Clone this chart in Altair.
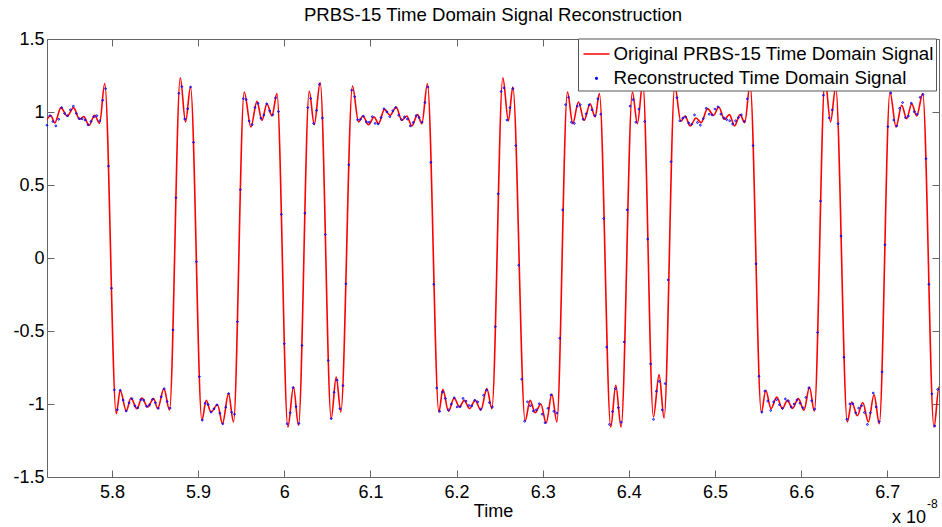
import altair as alt
import pandas as pd

ORIG = "Original PRBS-15 Time Domain Signal"
RECON = "Reconstructed Time Domain Signal"
FONT = "Liberation Sans"

x_ticks = [5.8, 5.9, 6.0, 6.1, 6.2, 6.3, 6.4, 6.5, 6.6, 6.7]
y_ticks = [-1.5, -1.0, -0.5, 0.0, 0.5, 1.0, 1.5]
x_domain = [5.7246, 6.76]
y_domain = [-1.5, 1.5]

# Original signal: turning points of the red curve (time in units of 1e-8 s)
line_t = [
    5.7214, 5.7290, 5.7336, 5.7408, 5.7481, 5.7554, 5.7624, 5.7673, 5.7734, 5.7798,
    5.7856, 5.7916, 5.8050, 5.8096, 5.8166, 5.8220, 5.8290, 5.8348, 5.8413, 5.8483,
    5.8531, 5.8603, 5.8668, 5.8793, 5.8854, 5.8912, 5.9044, 5.9094, 5.9149, 5.9225,
    5.9283, 5.9353, 5.9411, 5.9535, 5.9613, 5.9683, 5.9741, 5.9799, 5.9857, 5.9915,
    6.0042, 6.0107, 6.0165, 6.0290, 6.0348, 6.0417, 6.0545, 6.0603, 6.0657, 6.0792,
    6.0862, 6.0913, 6.0978, 6.1044, 6.1094, 6.1163, 6.1229, 6.1299, 6.1365, 6.1423,
    6.1481, 6.1546, 6.1597, 6.1662, 6.1795, 6.1841, 6.1906, 6.1972, 6.2034, 6.2088,
    6.2150, 6.2216, 6.2282, 6.2352, 6.2410, 6.2537, 6.2602, 6.2653, 6.2796, 6.2854,
    6.2912, 6.2978, 6.3040, 6.3106, 6.3164, 6.3287, 6.3349, 6.3414, 6.3481, 6.3550,
    6.3608, 6.3658, 6.3790, 6.3848, 6.3910, 6.4041, 6.4099, 6.4162, 6.4285, 6.4351,
    6.4409, 6.4533, 6.4603, 6.4653, 6.4711, 6.4780, 6.4838, 6.4914, 6.4983, 6.5044,
    6.5109, 6.5167, 6.5227, 6.5291, 6.5345, 6.5407, 6.5538, 6.5589, 6.5650, 6.5717,
    6.5782, 6.5840, 6.5900, 6.5967, 6.6033, 6.6097, 6.6153, 6.6277, 6.6341, 6.6401,
    6.6536, 6.6587, 6.6652, 6.6715, 6.6780, 6.6846, 6.6907, 6.7031, 6.7101, 6.7167,
    6.7225, 6.7283, 6.7341, 6.7411, 6.7542, 6.7600, 6.7658,
]
line_v = [
    0.915, 0.975, 0.925, 1.030, 0.972, 1.030, 0.950, 0.968, 0.908, 0.978,
    0.922, 1.195, -1.066, -0.906, -1.048, -0.959, -1.032, -0.959, -1.021, -0.963,
    -1.032, -0.895, -1.043, 1.235, 0.932, 1.171, -1.112, -0.975, -1.055, -1.005,
    -1.135, -0.929, -1.123, 1.137, 0.897, 1.073, 0.943, 1.057, 0.973, 1.126,
    -1.158, -0.884, -1.146, 1.142, 0.913, 1.201, -1.100, -0.815, -1.055, 1.178,
    0.932, 0.973, 0.913, 0.966, 0.920, 1.018, 0.977, 1.034, 0.943, 0.973,
    0.904, 0.982, 0.920, 1.194, -1.055, -0.900, -1.050, -0.959, -1.021, -0.975,
    -1.032, -0.975, -1.043, -0.895, -1.032, 1.235, 0.940, 1.171, -1.115, -0.975,
    -1.060, -1.000, -1.130, -0.932, -1.123, 1.137, 0.920, 1.068, 0.943, 1.057,
    0.966, 1.126, -1.158, -0.872, -1.158, 1.137, 0.920, 1.200, -1.089, -0.799,
    -1.096, 1.180, 0.936, 0.973, 0.904, 0.959, 0.927, 1.023, 0.977, 1.034,
    0.950, 0.982, 0.904, 0.982, 0.927, 1.190, -1.059, -0.906, -1.032, -0.952,
    -1.032, -0.975, -1.030, -0.963, -1.043, -0.884, -1.050, 1.225, 0.932, 1.171,
    -1.123, -0.986, -1.080, -0.990, -1.123, -0.936, -1.135, 1.137, 0.897, 1.046,
    0.954, 1.057, 0.973, 1.126, -1.158, -0.884, -1.146,
]

# Reconstructed signal: samples on a uniform time grid
dot_t0 = 5.7246
dot_dt = 0.003401
dot_v = [
    0.909, 0.975, 0.935, 0.905, 0.950, 1.030, 0.990, 0.975, 1.015, 1.040,
    0.990, 0.955, 0.953, 0.945, 0.912, 0.935, 0.968, 0.975, 0.940, 1.080,
    1.160, 0.630, -0.207, -0.903, -1.039, -0.906, -0.974, -1.048, -0.992, -0.964,
    -1.012, -1.026, -0.970, -0.973, -1.016, -1.006, -0.968, -0.991, -1.029, -0.950,
    -0.896, -0.983, -1.028, -0.492, 0.413, 1.128, 1.174, 0.952, 1.022, 1.171,
    0.792, -0.025, -0.813, -1.110, -0.995, -1.004, -1.055, -1.033, -1.006, -1.063,
    -1.135, -1.022, -0.929, -1.057, -1.070, -0.436, 0.468, 1.092, 1.085, 0.938,
    0.914, 1.031, 1.059, 0.958, 0.979, 1.056, 1.008, 0.981, 1.097, 1.003,
    0.299, -0.587, -1.135, -1.060, -0.888, -1.018, -1.133, -0.599, 0.307, 1.030,
    1.093, 0.922, 1.011, 1.189, 0.959, 0.161, -0.702, -1.100, -0.920, -0.837,
    -1.032, -0.874, -0.177, 0.638, 1.149, 1.105, 0.947, 0.950, 0.971, 0.932,
    0.930, 0.968, 0.922, 0.918, 0.962, 1.022, 1.001, 0.968, 1.008, 1.030,
    0.978, 0.948, 0.966, 0.952, 0.905, 0.928, 0.975, 0.962, 0.931, 1.065,
    1.171, 0.655, -0.180, -0.890, -1.050, -0.918, -0.962, -1.040, -1.001, -0.958,
    -1.020, -1.018, -0.962, -0.980, -1.010, -1.012, -0.975, -0.985, -1.035, -0.940,
    -0.905, -0.990, -1.020, -0.470, 0.440, 1.140, 1.165, 0.945, 1.030, 1.160,
    0.770, -0.050, -0.830, -1.118, -0.985, -1.012, -1.048, -1.040, -0.998, -1.070,
    -1.128, -1.030, -0.938, -1.050, -1.062, -0.550, 0.330, 1.050, 1.100, 0.930,
    0.922, 1.040, 1.050, 0.950, 0.988, 1.048, 1.015, 0.975, 1.090, 0.985,
    0.270, -0.610, -1.140, -1.052, -0.895, -1.025, -1.125, -0.575, 0.330, 1.040,
    1.085, 0.930, 1.020, 1.180, 0.935, 0.130, -0.725, -1.105, -0.912, -0.845,
    -1.040, -0.860, -0.150, 0.660, 1.155, 1.098, 0.940, 0.958, 0.965, 0.925,
    0.915, 0.980, 0.928, 0.910, 0.955, 1.025, 0.985, 0.980, 1.020, 1.035,
    0.985, 0.960, 0.948, 0.940, 0.918, 0.940, 0.962, 0.980, 0.935, 1.090,
    1.165, 0.770, -0.040, -0.810, -1.055, -0.912, -0.980, -1.044, -0.985, -0.970,
    -1.005, -1.030, -0.965, -0.978, -1.020, -1.000, -0.972, -0.995, -1.025, -0.955,
    -0.890, -0.978, -1.035, -0.510, 0.390, 1.115, 1.180, 0.960, 1.015, 1.175,
    0.920, 0.150, -0.680, -1.105, -1.000, -0.998, -1.060, -1.028, -1.012, -1.058,
    -1.140, -1.060, -0.925, -1.020, -1.120, -0.780, 0.090, 0.900, 1.130, 0.945,
    0.905, 1.025, 1.065, 0.962, 0.972, 1.060, 1.002, 0.985, 1.100, 1.120,
    0.680, -0.180, -0.930, -1.150, -0.900,
]
dot_t = [round(dot_t0 + i * dot_dt, 6) for i in range(len(dot_v))]

line_df = pd.DataFrame({"t": line_t, "v": line_v, "series": ORIG})
dot_df = pd.DataFrame({"t": dot_t, "v": dot_v, "series": RECON})

xs = alt.Scale(domain=x_domain, nice=False, zero=False)
ys = alt.Scale(domain=y_domain, nice=False, zero=False)
color_scale = alt.Scale(domain=[ORIG, RECON], range=["#ff0000", "#0000ff"])
shape_scale = alt.Scale(domain=[ORIG, RECON], range=["stroke", "circle"])
size_scale = alt.Scale(domain=[ORIG, RECON], range=[676, 3])


def legend():
    return alt.Legend(
        orient="none", legendX=531, legendY=-0.5, title=None,
        padding=1.5, rowPadding=5, labelOffset=3, symbolOffset=3,
        labelFontSize=18.7, labelFont=FONT, labelColor="black", labelLimit=600,
        strokeColor="#555555", fillColor="white", symbolStrokeWidth=1.5,
    )


label_expr = "'' + datum.value"

x_axis_bottom = alt.Axis(
    orient="bottom", values=x_ticks, offset=-7, tickSize=7, domain=False, grid=False,
    labelExpr=label_expr, labelFontSize=18, labelPadding=6.5, labelFlush=False,
    labelOverlap=False, title="Time", titleFontSize=18, titleFontWeight="normal",
    titleX=446, titleY=46, titleBaseline="alphabetic", titleAlign="center",
)
y_axis_left = alt.Axis(
    orient="left", values=y_ticks, offset=-7, tickSize=7, domain=False, grid=False,
    labelExpr=label_expr, labelFontSize=18, labelPadding=3, labelFlush=False,
    labelOverlap=False, title=None,
)
x_axis_top = alt.Axis(orient="top", values=x_ticks, offset=-7, tickSize=7, domain=False,
                      grid=False, labels=False, title=None)
y_axis_right = alt.Axis(orient="right", values=y_ticks, offset=-7, tickSize=7, domain=False,
                        grid=False, labels=False, title=None)

line = alt.Chart(line_df).mark_line(interpolate="monotone", strokeWidth=1.6, clip=True).encode(
    x=alt.X("t:Q", scale=xs, axis=x_axis_bottom),
    y=alt.Y("v:Q", scale=ys, axis=y_axis_left),
    color=alt.Color("series:N", scale=color_scale, legend=legend()),
)
points = alt.Chart(dot_df).mark_point(filled=False, strokeWidth=1.0, opacity=1).encode(
    x=alt.X("t:Q", scale=xs),
    y=alt.Y("v:Q", scale=ys),
    color=alt.Color("series:N", scale=color_scale, legend=legend()),
    shape=alt.Shape("series:N", scale=shape_scale, legend=legend()),
    size=alt.Size("series:N", scale=size_scale, legend=legend()),
)
frame_axes = alt.Chart(line_df).mark_point(opacity=0).encode(
    x=alt.X("t:Q", scale=xs, axis=x_axis_top),
    y=alt.Y("v:Q", scale=ys, axis=y_axis_right),
)

ann = pd.DataFrame({"a": [0]})
x10 = alt.Chart(ann).mark_text(text="x 10", align="left", baseline="alphabetic",
                               fontSize=18, font=FONT, color="black").encode(
    x=alt.value(845), y=alt.value(484))
expo = alt.Chart(ann).mark_text(text="-8", align="left", baseline="alphabetic",
                                fontSize=12, font=FONT, color="black").encode(
    x=alt.value(880), y=alt.value(469))

chart = alt.layer(
    alt.layer(line, points), frame_axes, x10, expo
).resolve_scale(x="independent", y="independent").properties(
    width=892, height=438,
    title=alt.TitleParams(
        text="PRBS-15 Time Domain Signal Reconstruction", fontSize=18.6, fontWeight="normal",
        font=FONT, color="black", anchor="middle", frame="group", offset=15, dy=25,
        baseline="alphabetic",
    ),
    autosize=alt.AutoSizeParams(type="none"),
    padding={"left": 47, "top": 39, "right": 3, "bottom": 50},
    background="white",
).configure_view(stroke="#666666", strokeWidth=1).configure_axis(
    tickColor="#666666", tickWidth=1, labelColor="black", labelFont=FONT,
    titleFont=FONT, titleColor="black",
)

chart.save("out.html", embed_options={"renderer": "svg", "actions": False})
